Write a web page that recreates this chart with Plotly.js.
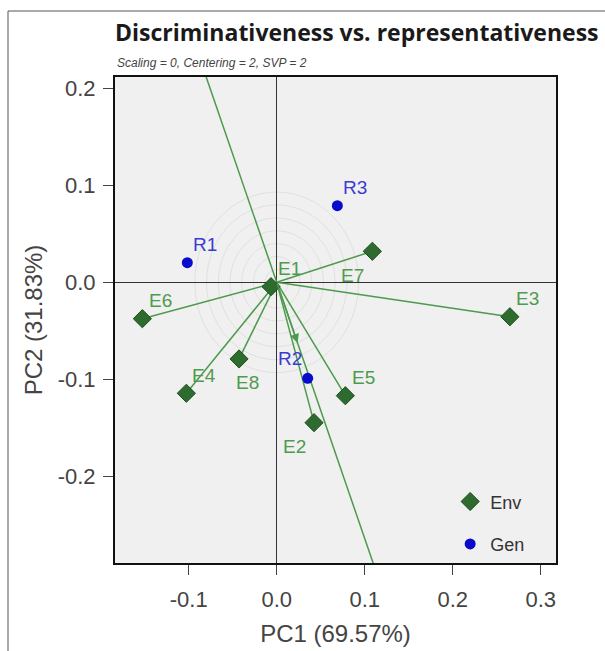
<!DOCTYPE html>
<html>
<head>
<meta charset="utf-8">
<script src="https://cdn.plot.ly/plotly-3.0.1.min.js"></script>
<style>html,body{margin:0;padding:0;background:#fff;}#chart{width:605px;height:651px;}</style>
</head>
<body>
<div id="chart"></div>
<script>
// ---- data ----
const envNames = ['E1','E2','E3','E4','E5','E6','E7','E8'];
const envPC1 = [-0.0065, 0.0424, 0.265, -0.1027, 0.078, -0.1527, 0.1087, -0.0428];
const envPC2 = [-0.0045, -0.1447, -0.0355, -0.1144, -0.1169, -0.0375, 0.032, -0.079];
const envLabelPos = ['ur','ll','ur','ur','ur','ur','ll','b'];

const genNames = ['R1','R2','R3'];
const genPC1 = [-0.1016, 0.0352, 0.0689];
const genPC2 = [0.0202, -0.099, 0.079];
const genLabelPos = ['ur','ul','ur'];

const avgEnv = [0.0237, -0.0626];          // average environment coordinates
const ringRadii = [0.0133, 0.0266, 0.0399, 0.0532, 0.0665, 0.0798, 0.0931];

const xTickVals = [-0.1, 0, 0.1, 0.2, 0.3];
const xTickText = ['-0.1', '0.0', '0.1', '0.2', '0.3'];
const yTickVals = [-0.2, -0.1, 0, 0.1, 0.2];
const yTickText = ['-0.2', '-0.1', '0.0', '0.1', '0.2'];

// ---- styles ----
const envMarkerColor = '#2e6b2e';
const envLineColor = '#4c9a4c';
const envLabelColor = '#4f9a4f';
const genMarkerColor = '#0a0acc';
const genLabelColor = '#3b3bd0';
const labelShift = {ur: [18, 18], ul: [-18, 20], ll: [-20, -24], b: [8, -24]};

// vectors from origin to environments
const vecX = [], vecY = [];
envPC1.forEach((x, i) => { vecX.push(0, x, null); vecY.push(0, envPC2[i], null); });

// average-environment axis through the origin
const aecT = [-6, 6];
const aecX = aecT.map(t => t * avgEnv[0]);
const aecY = aecT.map(t => t * avgEnv[1]);

const traces = [
  {x: vecX, y: vecY, mode: 'lines', line: {color: envLineColor, width: 1.5},
   showlegend: false, hoverinfo: 'skip'},
  {x: aecX, y: aecY, mode: 'lines', line: {color: envLineColor, width: 1.5},
   showlegend: false, hoverinfo: 'skip'},
  {x: envPC1, y: envPC2, text: envNames, mode: 'markers', name: 'Env', legendgroup: 'env',
   marker: {symbol: 'diamond', size: 14, color: envMarkerColor, line: {color: '#1f4f1f', width: 1}}},
  {x: genPC1, y: genPC2, text: genNames, mode: 'markers', name: 'Gen', legendgroup: 'gen',
   marker: {symbol: 'circle', size: 11, color: genMarkerColor}}
];

const annotations = [];
envNames.forEach((n, i) => {
  const s = labelShift[envLabelPos[i]];
  annotations.push({x: envPC1[i], y: envPC2[i], text: n, showarrow: false,
    xshift: s[0], yshift: s[1], font: {family: 'Liberation Sans, Arial', size: 19, color: envLabelColor}});
});
genNames.forEach((n, i) => {
  const s = labelShift[genLabelPos[i]];
  annotations.push({x: genPC1[i], y: genPC2[i], text: n, showarrow: false,
    xshift: s[0], yshift: s[1], font: {family: 'Liberation Sans, Arial', size: 19, color: genLabelColor}});
});
// arrow to average environment
annotations.push({x: avgEnv[0], y: avgEnv[1], ax: 0, ay: 0, axref: 'x', ayref: 'y',
  xref: 'x', yref: 'y', text: '', showarrow: true, arrowhead: 2, arrowsize: 1.2,
  arrowwidth: 1.5, arrowcolor: envLineColor});
// subtitle
annotations.push({xref: 'paper', yref: 'paper', x: 0, y: 1, xanchor: 'left', yanchor: 'bottom',
  yshift: 5, showarrow: false, text: '<i>Scaling = 0, Centering = 2, SVP = 2</i>',
  font: {family: 'Liberation Sans, Arial', size: 12, color: '#444'}});

const shapes = ringRadii.map(r => ({type: 'circle', xref: 'x', yref: 'y', x0: -r, x1: r, y0: -r, y1: r,
  line: {color: '#e0e0e0', width: 1}, layer: 'below'}));
// outer frame
shapes.push({type: 'line', xref: 'paper', yref: 'paper', x0: -0.2426, x1: 1.2, y0: 1.1358, y1: 1.1358,
  line: {color: '#555', width: 1}});
shapes.push({type: 'line', xref: 'paper', yref: 'paper', x0: -0.2426, x1: -0.2426, y0: 1.1358, y1: -0.3,
  line: {color: '#555', width: 1}});

const axisCommon = {
  showgrid: false, zeroline: true, zerolinecolor: '#333', zerolinewidth: 1.5,
  showline: true, mirror: true, linecolor: '#111', linewidth: 2,
  ticks: 'outside', ticklen: 10, tickwidth: 1, tickcolor: '#444',
  tickfont: {family: 'Liberation Sans, Arial', size: 22, color: '#444'},
  tickmode: 'array'
};

const layout = {
  width: 605, height: 651,
  margin: {l: 115, r: 49, t: 77, b: 88},
  paper_bgcolor: '#fff', plot_bgcolor: '#f0f0f0',
  title: {text: '<b>Discriminativeness vs. representativeness</b>', xref: 'container', yref: 'container',
    x: 115/605, xanchor: 'left', y: 1 - 33/651, yanchor: 'middle',
    font: {family: 'Open Sans', size: 23, color: '#1a1a1a'}},
  xaxis: Object.assign({}, axisCommon, {range: [-0.1838, 0.3174], tickvals: xTickVals, ticktext: xTickText,
    ticklabelstandoff: 6,
    title: {text: 'PC1 (69.57%)', standoff: 14, font: {family: 'Liberation Sans, Arial', size: 24, color: '#444'}}}),
  yaxis: Object.assign({}, axisCommon, {range: [-0.2894, 0.2117], tickvals: yTickVals, ticktext: yTickText,
    ticklabelstandoff: 3,
    title: {text: 'PC2 (31.83%)', standoff: 8, font: {family: 'Liberation Sans, Arial', size: 24, color: '#444'}}}),
  showlegend: true,
  legend: {x: 0.76, y: 0.164, xanchor: 'left', yanchor: 'top', bgcolor: 'rgba(0,0,0,0)',
    traceorder: 'grouped', tracegroupgap: 16,
    font: {family: 'Liberation Sans, Arial', size: 18, color: '#333'}},
  annotations: annotations,
  shapes: shapes
};

Plotly.newPlot('chart', traces, layout, {displayModeBar: false, staticPlot: true});
</script>
</body>
</html>
